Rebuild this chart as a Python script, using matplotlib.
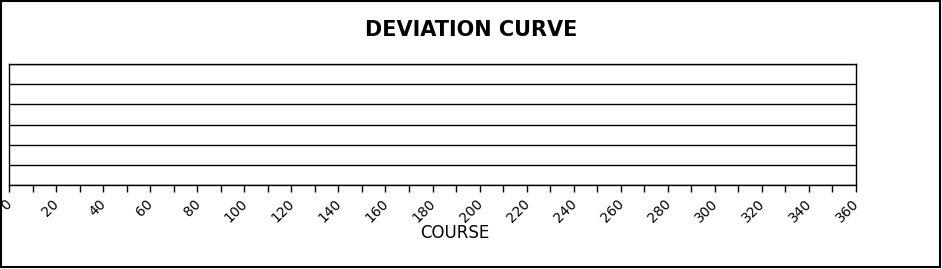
import matplotlib
matplotlib.use("Agg")
import matplotlib.pyplot as plt
from matplotlib.patches import Rectangle
from matplotlib.transforms import ScaledTranslation

# Chart data (the curve itself is empty in the reference)
course_labels = [0, 20, 40, 60, 80, 100, 120, 140, 160, 180, 200, 220, 240, 260, 280, 300, 320, 340, 360]
course_minor = [10, 30, 50, 70, 90, 110, 130, 150, 170, 190, 210, 230, 250, 270, 290, 310, 330, 350]
deviation_rows = [0, 1, 2, 3, 4, 5, 6]
course_points = []
deviation_values = []

W, H = 942, 269
fig = plt.figure(figsize=(W / 100, H / 100), dpi=100)
fig.patch.set_facecolor("white")

# Plot area in pixels: left 9, right 856, top 64, bottom 185
ax = fig.add_axes([9 / W, 1 - 185 / H, (856 - 9) / W, (185 - 64) / H])
ax.plot(course_points, deviation_values, color="black")

ax.set_xlim(course_labels[0], course_labels[-1])
ax.set_ylim(deviation_rows[0], deviation_rows[-1])
ax.set_xticks(course_labels)
ax.set_xticks(course_minor, minor=True)
ax.set_xticklabels([str(c) for c in course_labels], rotation=45, ha="right",
                   rotation_mode="anchor", fontsize=10)
ax.tick_params(axis="x", which="both", length=5, width=1, direction="out", colors="black")
# nudge the rotated labels a little to the left, like the reference
shift = ScaledTranslation(-4 / 100, 0, fig.dpi_scale_trans)
for lbl in ax.get_xticklabels():
    lbl.set_transform(lbl.get_transform() + shift)
ax.set_yticks(deviation_rows)
ax.tick_params(axis="y", which="both", length=0, labelleft=False)
ax.grid(axis="y", color="black", linewidth=1)
for s in ax.spines.values():
    s.set_linewidth(1)
    s.set_color("black")

# Title and axis label
fig.text(0.5, 1 - 29.5 / H, "DEVIATION CURVE", ha="center", va="center",
         fontsize=15, fontweight="bold")
fig.text(455 / W, 1 - 233.5 / H, "COURSE", ha="center", va="center", fontsize=12)

# Outer frame
fig.patches.append(Rectangle((0.5 / W, 2.0 / H), (940 - 0.5) / W, (H - 2.5) / H,
                             transform=fig.transFigure, fill=False,
                             edgecolor="black", linewidth=1.5))

fig.savefig("out.png", dpi=100)
